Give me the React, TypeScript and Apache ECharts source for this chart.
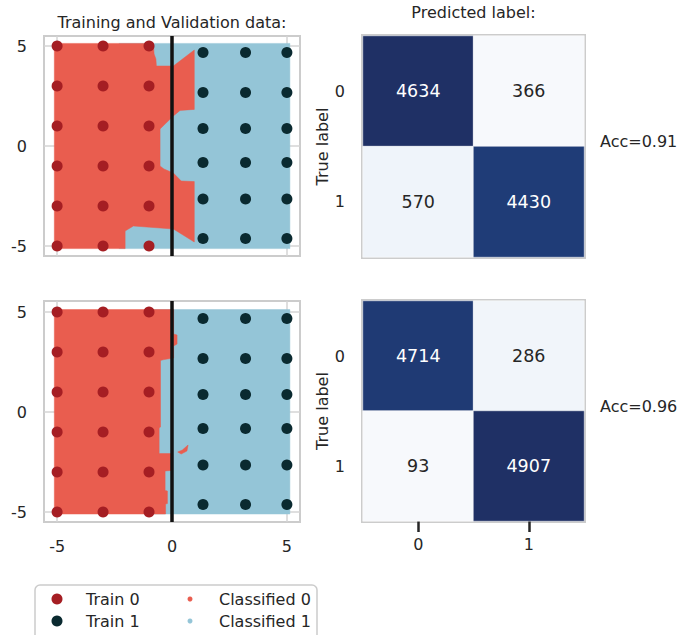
import React, { useEffect, useRef } from 'react';
import * as echarts from 'echarts';

// ---------- data ----------
const train0Points: number[][] = [
  [-5, 5], [-3, 5], [-1, 5],
  [-5, 3], [-3, 3], [-1, 3],
  [-5, 1], [-3, 1], [-1, 1],
  [-5, -1], [-3, -1], [-1, -1],
  [-5, -3], [-3, -3], [-1, -3],
  [-5, -5], [-3, -5], [-1, -5],
];
const train1Points: number[][] = [
  [1.35, 4.67], [3.2, 4.67], [5.0, 4.67],
  [1.35, 2.67], [3.2, 2.67], [5.0, 2.67],
  [1.35, 0.87], [3.2, 0.87], [5.0, 0.87],
  [1.35, -0.82], [3.2, -0.82], [5.0, -0.82],
  [1.35, -2.65], [3.2, -2.65], [5.0, -2.65],
  [1.35, -4.62], [3.2, -4.62], [5.0, -4.62],
];

// decision regions (top panel)
const classified1Top: number[][][] = [
  [[-2.3, 5.13], [5.13, 5.13], [5.13, -5.13], [-2.3, -5.13]],
];
const classified0Top: number[][][] = [
  [
    [-5.12, 5.13], [-0.81, 5.13], [-0.78, 4.6], [-0.7, 4.35], [-0.68, 4.0], [0.06, 4.0],
    [0.97, 4.8], [0.97, 1.83], [0.35, 1.78], [0.06, 1.5], [-0.3, 1.1], [-0.52, 0.85],
    [-0.52, -1.0], [-0.35, -1.15], [0.06, -1.35], [0.4, -1.75], [0.97, -1.78],
    [0.97, -4.8], [0.06, -4.15], [-1.68, -4.0], [-2.04, -4.25], [-2.04, -5.13], [-5.12, -5.13],
  ],
];

// decision regions (bottom panel)
const classified1Bottom: number[][][] = [
  [[-1.0, 5.12], [5.13, 5.12], [5.13, -5.1], [-1.0, -5.1]],
];
const classified0Bottom: number[][][] = [
  [
    [-5.12, 5.12], [0.07, 5.12], [0.07, 3.9], [0.22, 3.85], [0.22, 3.4], [0.07, 3.3],
    [0.07, 2.7], [-0.35, 2.62], [-0.5, 2.58], [-0.5, -0.75], [-0.56, -0.8], [-0.56, -2.08],
    [-0.02, -2.08], [-0.02, -2.92], [-0.3, -2.95], [-0.3, -3.92], [-0.2, -3.95],
    [-0.2, -4.58], [-0.28, -4.6], [-0.28, -5.1], [-5.12, -5.1],
  ],
  [[0.25, -2.0], [0.45, -1.9], [0.7, -1.65], [0.65, -1.95], [0.4, -2.1]],
];

const boundaryX = 0;
const scatterTicks = [-5, 0, 5];

// confusion matrices
const cmLabels = ['0', '1'];
const cmTop: number[][] = [[4634, 366], [570, 4430]];
const cmBottom: number[][] = [[4714, 286], [93, 4907]];
const accuracies = [0.91, 0.96];

// ---------- style ----------
const FONT = 'DejaVu Sans';
const TEXT = '#262626';
const FS = 16;
const RED_REGION = '#e95d4f';
const BLUE_REGION = '#94c5d7';
const TRAIN0 = '#a51e23';
const TRAIN1 = '#0a2a30';
const BORDER = '#cccccc';
const BLUES = [
  '#f7f9fc', '#e7eff7', '#d2e1ef', '#b6cde4', '#93b3d5', '#6d93c1',
  '#4e77ac', '#3a609c', '#2c4f8e', '#1f4a8a', '#1f3065',
];

const grids = [
  { left: 44, top: 36, width: 256, height: 220 },
  { left: 44, top: 301, width: 256, height: 221 },
  { left: 363, top: 36, width: 221, height: 221 },
  { left: 363, top: 301, width: 221, height: 220 },
];

function regionSeries(name: string, polys: number[][][], color: string, gi: number) {
  return {
    type: 'custom',
    name,
    xAxisIndex: gi,
    yAxisIndex: gi,
    itemStyle: { color },
    z: 1,
    silent: true,
    data: polys[0],
    renderItem: (params: any, api: any) => {
      if (params.dataIndex !== 0) return null;
      return {
        type: 'group',
        children: polys.map((poly) => ({
          type: 'polygon',
          shape: { points: poly.map((p) => api.coord(p)) },
          style: { fill: color, stroke: color, lineWidth: 0.5 },
        })),
      };
    },
  };
}

function heatData(cm: number[][]) {
  const max = Math.max(...cm.flat());
  const min = Math.min(...cm.flat());
  const out: any[] = [];
  cm.forEach((row, i) =>
    row.forEach((v, j) => {
      out.push({
        value: [j, i, v],
        label: { color: (v - min) / (max - min) > 0.5 ? '#ffffff' : TEXT },
      });
    })
  );
  return { out, min, max };
}

export default function App() {
  const ref = useRef<HTMLDivElement>(null);
  useEffect(() => {
    if (!ref.current) return;
    const chart = echarts.init(ref.current, null, { renderer: 'svg' });

    const xAxes: any[] = [];
    const yAxes: any[] = [];
    [0, 1].forEach((gi) => {
      xAxes.push({
        type: 'value',
        gridIndex: gi,
        min: -5.57,
        max: 5.57,
        axisLine: { show: false },
        axisTick: { show: false, customValues: scatterTicks },
        axisLabel: {
          show: gi === 1,
          customValues: scatterTicks,
          margin: 16,
          fontSize: FS,
          fontFamily: FONT,
          color: TEXT,
        },
        splitLine: { show: true, lineStyle: { color: '#d4d4d4', width: 1.5 } },
      });
      yAxes.push({
        type: 'value',
        gridIndex: gi,
        min: -5.5,
        max: gi === 0 ? 5.5 : 5.55,
        axisLine: { show: false },
        axisTick: { show: false, customValues: scatterTicks },
        axisLabel: {
          customValues: scatterTicks,
          margin: 17,
          fontSize: FS,
          fontFamily: FONT,
          color: TEXT,
        },
        splitLine: { show: true, lineStyle: { color: '#d4d4d4', width: 1.5 } },
      });
    });
    [2, 3].forEach((gi) => {
      const bottom = gi === 3;
      xAxes.push({
        type: 'category',
        gridIndex: gi,
        data: cmLabels,
        axisLine: { show: false },
        axisTick: {
          show: bottom,
          alignWithLabel: true,
          length: 11,
          lineStyle: { color: TEXT, width: 2.5 },
        },
        axisLabel: { show: bottom, margin: 15, fontSize: FS, fontFamily: FONT, color: TEXT },
        splitLine: { show: false },
      });
      yAxes.push({
        type: 'category',
        gridIndex: gi,
        data: cmLabels,
        inverse: true,
        axisLine: { show: false },
        axisTick: { show: false },
        axisLabel: { margin: 18, fontSize: FS, fontFamily: FONT, color: TEXT },
        name: 'True label',
        nameLocation: 'middle',
        nameRotate: 90,
        nameGap: 32,
        nameTextStyle: { fontSize: FS, fontFamily: FONT, color: TEXT },
        splitLine: { show: false },
      });
    });

    const series: any[] = [];
    const regions = [
      [classified1Top, classified0Top],
      [classified1Bottom, classified0Bottom],
    ];
    [0, 1].forEach((gi) => {
      series.push(regionSeries('Classified 1', regions[gi][0], BLUE_REGION, gi));
      series.push(regionSeries('Classified 0', regions[gi][1], RED_REGION, gi));
      series.push({
        type: 'scatter',
        name: 'Train 0',
        xAxisIndex: gi,
        yAxisIndex: gi,
        symbolSize: 11,
        itemStyle: { color: TRAIN0, opacity: 1 },
        z: 3,
        data: train0Points,
      });
      series.push({
        type: 'scatter',
        name: 'Train 1',
        xAxisIndex: gi,
        yAxisIndex: gi,
        symbolSize: 11,
        itemStyle: { color: TRAIN1, opacity: 1 },
        z: 3,
        data: train1Points,
        markLine: {
          silent: true,
          symbol: 'none',
          label: { show: false },
          lineStyle: { color: '#111111', width: 3.5, type: 'solid' },
          data: [{ xAxis: boundaryX }],
        },
      });
    });

    const visualMaps: any[] = [];
    [cmTop, cmBottom].forEach((cm, k) => {
      const { out, min, max } = heatData(cm);
      visualMaps.push({
        type: 'continuous',
        show: false,
        seriesIndex: series.length,
        dimension: 2,
        min,
        max,
        inRange: { color: BLUES },
      });
      series.push({
        type: 'heatmap',
        name: 'cm' + k,
        xAxisIndex: 2 + k,
        yAxisIndex: 2 + k,
        data: out,
        itemStyle: { borderColor: '#ffffff', borderWidth: 0.5 },
        label: {
          show: true,
          fontSize: 17.5,
          fontFamily: FONT,
          formatter: (p: any) => String(p.value[2]),
        },
      });
    });

    const textStyle = (size: number) => ({ fontSize: size, fontFamily: FONT, fill: TEXT });
    const legendText = { fontSize: FS, fontFamily: FONT, color: TEXT, lineHeight: 18 };

    chart.setOption({
      animation: false,
      backgroundColor: '#ffffff',
      textStyle: { fontFamily: FONT, color: TEXT },
      grid: grids.map((g, i) => ({
        ...g,
        show: true,
        borderColor: BORDER,
        borderWidth: i >= 2 ? 4 : 2,
        backgroundColor: '#ffffff',
        containLabel: false,
      })),
      xAxis: xAxes,
      yAxis: yAxes,
      visualMap: visualMaps,
      legend: [
        {
          data: ['Train 0', 'Train 1'],
          orient: 'vertical',
          left: 51.5,
          top: 590,
          padding: 0,
          height: 45,
          itemWidth: 11,
          itemHeight: 11,
          itemGap: 4,
          icon: 'circle',
          selectedMode: false,
          textStyle: { ...legendText, padding: [0, 0, 0, 18.5] },
        },
        {
          data: ['Classified 0', 'Classified 1'],
          orient: 'vertical',
          left: 187.5,
          top: 590,
          padding: 0,
          height: 45,
          itemWidth: 5,
          itemHeight: 5,
          itemGap: 4,
          icon: 'circle',
          selectedMode: false,
          textStyle: { ...legendText, padding: [0, 0, 0, 21.5] },
        },
      ],
      graphic: [
        {
          type: 'rect',
          z: -1,
          shape: { x: 35, y: 585, width: 282, height: 60, r: 5 },
          style: { fill: 'transparent', stroke: BORDER, lineWidth: 1.5 },
        },
        {
          type: 'text',
          x: 172,
          y: 22.5,
          style: { text: 'Training and Validation data:', align: 'center', verticalAlign: 'middle', ...textStyle(FS) },
        },
        {
          type: 'text',
          x: 473.5,
          y: 12.7,
          style: { text: 'Predicted label:', align: 'center', verticalAlign: 'middle', ...textStyle(FS) },
        },
        {
          type: 'text',
          x: 600,
          y: 141.7,
          style: { text: 'Acc=' + accuracies[0].toFixed(2), align: 'left', verticalAlign: 'middle', ...textStyle(FS) },
        },
        {
          type: 'text',
          x: 600,
          y: 406.7,
          style: { text: 'Acc=' + accuracies[1].toFixed(2), align: 'left', verticalAlign: 'middle', ...textStyle(FS) },
        },
      ],
      series,
    });
    return () => chart.dispose();
  }, []);

  return (
    <div
      ref={ref}
      style={{ position: 'fixed', left: 0, top: 0, width: 678, height: 635 }}
    />
  );
}
